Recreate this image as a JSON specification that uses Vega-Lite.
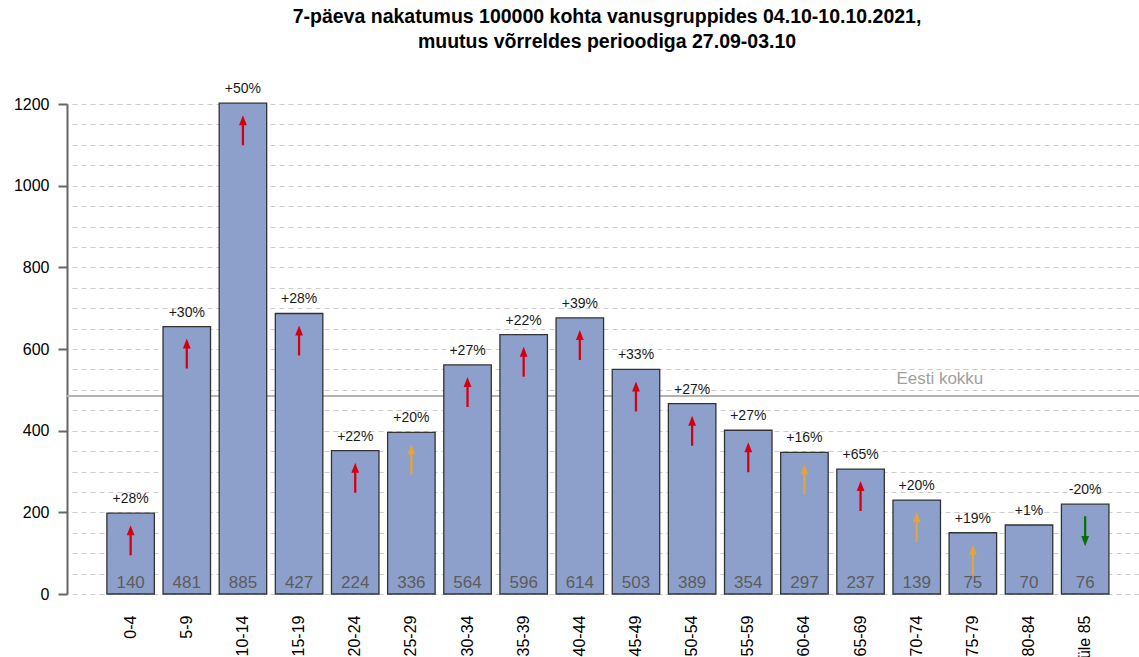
{
  "$schema": "https://vega.github.io/schema/vega-lite/v6.json",
  "width": 1072,
  "height": 490,
  "autosize": {"type": "none"},
  "padding": {"left": 67, "top": 104, "right": 0, "bottom": 63},
  "background": "#ffffff",
  "config": {"view": {"stroke": null}, "font": "Liberation Sans"},
  "title": {
    "text": ["7-päeva nakatumus 100000 kohta vanusgruppides 04.10-10.10.2021,", "muutus võrreldes perioodiga 27.09-03.10"],
    "font": "Liberation Sans",
    "fontSize": 19.5,
    "fontWeight": "bold",
    "color": "#000000",
    "anchor": "middle",
    "lineHeight": 25,
    "offset": 30,
    "dx": 4
  },
  "datasets": {
    "ages": [
      {"age": "0-4", "inc": 198, "n": 140, "chg": 28, "pct": "+28%"},
      {"age": "5-9", "inc": 655, "n": 481, "chg": 30, "pct": "+30%"},
      {"age": "10-14", "inc": 1202, "n": 885, "chg": 50, "pct": "+50%"},
      {"age": "15-19", "inc": 687, "n": 427, "chg": 28, "pct": "+28%"},
      {"age": "20-24", "inc": 351, "n": 224, "chg": 22, "pct": "+22%"},
      {"age": "25-29", "inc": 396, "n": 336, "chg": 20, "pct": "+20%"},
      {"age": "30-34", "inc": 561, "n": 564, "chg": 27, "pct": "+27%"},
      {"age": "35-39", "inc": 635, "n": 596, "chg": 22, "pct": "+22%"},
      {"age": "40-44", "inc": 676, "n": 614, "chg": 39, "pct": "+39%"},
      {"age": "45-49", "inc": 550, "n": 503, "chg": 33, "pct": "+33%"},
      {"age": "50-54", "inc": 466, "n": 389, "chg": 27, "pct": "+27%"},
      {"age": "55-59", "inc": 401, "n": 354, "chg": 27, "pct": "+27%"},
      {"age": "60-64", "inc": 347, "n": 297, "chg": 16, "pct": "+16%"},
      {"age": "65-69", "inc": 306, "n": 237, "chg": 65, "pct": "+65%"},
      {"age": "70-74", "inc": 230, "n": 139, "chg": 20, "pct": "+20%"},
      {"age": "75-79", "inc": 150, "n": 75, "chg": 19, "pct": "+19%"},
      {"age": "80-84", "inc": 169, "n": 70, "chg": 1, "pct": "+1%"},
      {"age": "üle 85", "inc": 220, "n": 76, "chg": -20, "pct": "-20%"}
    ],
    "total": [{"total": 485, "label": "Eesti kokku"}]
  },
  "resolve": {"axis": {"y": "independent"}},
  "layer": [
    {
      "data": {"name": "ages"},
      "mark": {"type": "bar", "opacity": 0},
      "encoding": {
        "x": {"field": "age", "type": "nominal", "sort": null, "scale": {"paddingInner": 0.154, "paddingOuter": 0.623, "align": 0.57}, "axis": {"title": null, "labelAngle": 270, "labelFontSize": 16, "labelFont": "Liberation Sans", "labelColor": "#000000", "domain": false, "ticks": false, "labelPadding": 21, "grid": false}},
        "y": {"field": "inc", "type": "quantitative", "scale": {"domain": [0, 1200], "nice": false}, "axis": {"orient": "right", "title": null, "labels": false, "ticks": false, "domain": false, "grid": true, "values": [0, 50, 100, 150, 200, 250, 300, 350, 400, 450, 500, 550, 600, 650, 700, 750, 800, 850, 900, 950, 1000, 1050, 1100, 1150, 1200], "gridColor": "#cccccc", "gridDash": [5, 4], "gridWidth": 1}}
      }
    },
    {
      "data": {"name": "total"},
      "mark": {"type": "rule", "color": "#b3b3b3", "strokeWidth": 2},
      "encoding": {
        "y": {"field": "total", "type": "quantitative", "axis": null}
      }
    },
    {
      "data": {"name": "total"},
      "mark": {"type": "text", "color": "#a0a0a0", "fontSize": 17, "font": "Liberation Sans", "align": "center", "baseline": "alphabetic", "dx": -33, "dy": -12},
      "encoding": {
        "x": {"datum": "75-79", "type": "nominal", "axis": {"title": null, "labelAngle": 270, "labelFontSize": 16, "labelFont": "Liberation Sans", "labelColor": "#000000", "domain": false, "ticks": false, "labelPadding": 21, "grid": false}},
        "y": {"field": "total", "type": "quantitative", "axis": null},
        "text": {"field": "label"}
      }
    },
    {
      "data": {"name": "ages"},
      "layer": [
        {
          "mark": {"type": "bar", "fill": "#8da0cb", "stroke": "#333333", "strokeWidth": 1.3},
          "encoding": {
            "y": {"field": "inc", "type": "quantitative", "axis": {"orient": "left", "title": null, "grid": false, "format": "d", "values": [0, 200, 400, 600, 800, 1000, 1200], "labelFontSize": 16, "labelFont": "Liberation Sans", "labelColor": "#000000", "tickSize": 9, "tickWidth": 2, "tickColor": "#666666", "domainColor": "#666666", "domainWidth": 2, "labelPadding": 9}}
          }
        },
        {
          "mark": {"type": "text", "fontSize": 14, "font": "Liberation Sans", "color": "#1a1a1a", "baseline": "alphabetic", "dy": -10},
          "encoding": {
            "y": {"field": "inc", "type": "quantitative"},
            "text": {"field": "pct"}
          }
        },
        {
          "mark": {"type": "text", "fontSize": 17, "font": "Liberation Sans", "color": "#5c5c5c", "baseline": "alphabetic", "dy": -6},
          "encoding": {
            "y": {"datum": 0, "type": "quantitative"},
            "text": {"field": "n"}
          }
        },
        {
          "transform": [{"filter": "datum.chg > 5"}],
          "mark": {"type": "point", "filled": true, "opacity": 1, "strokeWidth": 0, "size": 900, "yOffset": 27, "shape": "M0,-1L0.26,-0.33L0.075,-0.33L0.075,1L-0.075,1L-0.075,-0.33L-0.26,-0.33Z"},
          "encoding": {
            "y": {"field": "inc", "type": "quantitative"},
            "color": {"condition": {"test": "datum.chg >= 21", "value": "#d40012"}, "value": "#e5a437"}
          }
        },
        {
          "transform": [{"filter": "datum.chg < -5"}],
          "mark": {"type": "point", "filled": true, "opacity": 1, "strokeWidth": 0, "size": 900, "yOffset": 27, "color": "#0b6e0b", "shape": "M0,1L0.26,0.33L0.075,0.33L0.075,-1L-0.075,-1L-0.075,0.33L-0.26,0.33Z"},
          "encoding": {
            "y": {"field": "inc", "type": "quantitative"}
          }
        }
      ],
      "encoding": {
        "x": {"field": "age", "type": "nominal", "sort": null, "axis": {"title": null, "labelAngle": 270, "labelFontSize": 16, "labelFont": "Liberation Sans", "labelColor": "#000000", "domain": false, "ticks": false, "labelPadding": 21, "grid": false}}
      }
    }
  ]
}
